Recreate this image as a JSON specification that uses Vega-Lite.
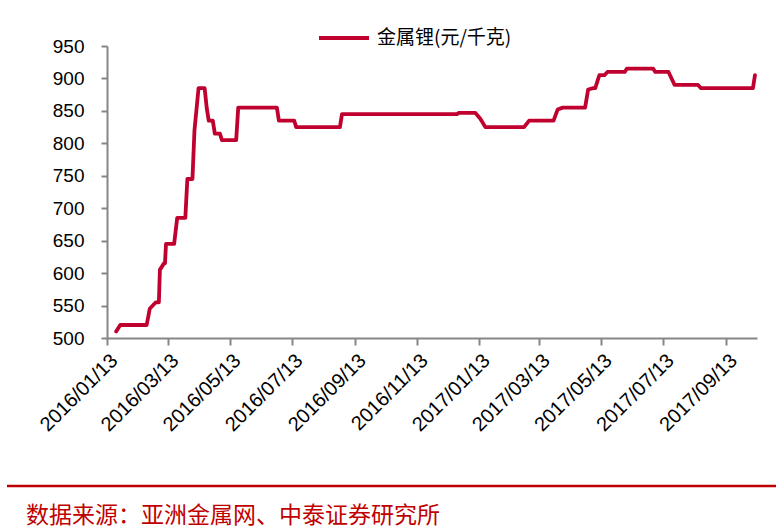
{
  "$schema": "https://vega.github.io/schema/vega-lite/v6.json",
  "padding": {"left": 5, "top": 11, "right": 5, "bottom": 2},
  "background": "white",
  "spacing": 46,
  "vconcat": [
    {
      "width": 650,
      "height": 292,
      "view": {"stroke": null},
      "data": {
        "values": [
          {"date": "2016/01/22", "price": 510, "series": "金属锂(元/千克)"},
          {"date": "2016/01/26", "price": 520, "series": "金属锂(元/千克)"},
          {"date": "2016/02/21", "price": 520, "series": "金属锂(元/千克)"},
          {"date": "2016/02/24", "price": 545, "series": "金属锂(元/千克)"},
          {"date": "2016/03/01", "price": 555, "series": "金属锂(元/千克)"},
          {"date": "2016/03/04", "price": 555, "series": "金属锂(元/千克)"},
          {"date": "2016/03/05", "price": 605, "series": "金属锂(元/千克)"},
          {"date": "2016/03/09", "price": 615, "series": "金属锂(元/千克)"},
          {"date": "2016/03/10", "price": 615, "series": "金属锂(元/千克)"},
          {"date": "2016/03/11", "price": 645, "series": "金属锂(元/千克)"},
          {"date": "2016/03/19", "price": 645, "series": "金属锂(元/千克)"},
          {"date": "2016/03/22", "price": 685, "series": "金属锂(元/千克)"},
          {"date": "2016/03/30", "price": 685, "series": "金属锂(元/千克)"},
          {"date": "2016/04/01", "price": 745, "series": "金属锂(元/千克)"},
          {"date": "2016/04/06", "price": 745, "series": "金属锂(元/千克)"},
          {"date": "2016/04/08", "price": 820, "series": "金属锂(元/千克)"},
          {"date": "2016/04/12", "price": 885, "series": "金属锂(元/千克)"},
          {"date": "2016/04/18", "price": 885, "series": "金属锂(元/千克)"},
          {"date": "2016/04/20", "price": 855, "series": "金属锂(元/千克)"},
          {"date": "2016/04/22", "price": 835, "series": "金属锂(元/千克)"},
          {"date": "2016/04/26", "price": 835, "series": "金属锂(元/千克)"},
          {"date": "2016/04/28", "price": 815, "series": "金属锂(元/千克)"},
          {"date": "2016/05/03", "price": 815, "series": "金属锂(元/千克)"},
          {"date": "2016/05/05", "price": 805, "series": "金属锂(元/千克)"},
          {"date": "2016/05/19", "price": 805, "series": "金属锂(元/千克)"},
          {"date": "2016/05/21", "price": 855, "series": "金属锂(元/千克)"},
          {"date": "2016/06/28", "price": 855, "series": "金属锂(元/千克)"},
          {"date": "2016/06/30", "price": 835, "series": "金属锂(元/千克)"},
          {"date": "2016/07/15", "price": 835, "series": "金属锂(元/千克)"},
          {"date": "2016/07/17", "price": 825, "series": "金属锂(元/千克)"},
          {"date": "2016/08/29", "price": 825, "series": "金属锂(元/千克)"},
          {"date": "2016/08/31", "price": 845, "series": "金属锂(元/千克)"},
          {"date": "2016/12/22", "price": 845, "series": "金属锂(元/千克)"},
          {"date": "2016/12/24", "price": 847, "series": "金属锂(元/千克)"},
          {"date": "2017/01/09", "price": 847, "series": "金属锂(元/千克)"},
          {"date": "2017/01/14", "price": 838, "series": "金属锂(元/千克)"},
          {"date": "2017/01/19", "price": 825, "series": "金属锂(元/千克)"},
          {"date": "2017/02/26", "price": 825, "series": "金属锂(元/千克)"},
          {"date": "2017/03/03", "price": 835, "series": "金属锂(元/千克)"},
          {"date": "2017/03/27", "price": 835, "series": "金属锂(元/千克)"},
          {"date": "2017/03/31", "price": 852, "series": "金属锂(元/千克)"},
          {"date": "2017/04/05", "price": 855, "series": "金属锂(元/千克)"},
          {"date": "2017/04/27", "price": 855, "series": "金属锂(元/千克)"},
          {"date": "2017/04/30", "price": 883, "series": "金属锂(元/千克)"},
          {"date": "2017/05/05", "price": 885, "series": "金属锂(元/千克)"},
          {"date": "2017/05/07", "price": 885, "series": "金属锂(元/千克)"},
          {"date": "2017/05/09", "price": 895, "series": "金属锂(元/千克)"},
          {"date": "2017/05/11", "price": 905, "series": "金属锂(元/千克)"},
          {"date": "2017/05/16", "price": 905, "series": "金属锂(元/千克)"},
          {"date": "2017/05/19", "price": 910, "series": "金属锂(元/千克)"},
          {"date": "2017/06/05", "price": 910, "series": "金属锂(元/千克)"},
          {"date": "2017/06/07", "price": 915, "series": "金属锂(元/千克)"},
          {"date": "2017/07/03", "price": 915, "series": "金属锂(元/千克)"},
          {"date": "2017/07/05", "price": 910, "series": "金属锂(元/千克)"},
          {"date": "2017/07/18", "price": 910, "series": "金属锂(元/千克)"},
          {"date": "2017/07/21", "price": 900, "series": "金属锂(元/千克)"},
          {"date": "2017/07/24", "price": 890, "series": "金属锂(元/千克)"},
          {"date": "2017/08/16", "price": 890, "series": "金属锂(元/千克)"},
          {"date": "2017/08/19", "price": 885, "series": "金属锂(元/千克)"},
          {"date": "2017/10/09", "price": 885, "series": "金属锂(元/千克)"},
          {"date": "2017/10/11", "price": 905, "series": "金属锂(元/千克)"}
        ]
      },
      "mark": {"type": "line", "strokeWidth": 3.8, "strokeJoin": "round", "strokeCap": "round"},
      "encoding": {
        "x": {
          "field": "date",
          "type": "temporal",
          "scale": {"domain": [{"year": 2016, "month": 1, "date": 13}, {"year": 2017, "month": 10, "date": 13}]},
          "axis": {
            "values": [
              {"year": 2016, "month": 1, "date": 13},
              {"year": 2016, "month": 3, "date": 13},
              {"year": 2016, "month": 5, "date": 13},
              {"year": 2016, "month": 7, "date": 13},
              {"year": 2016, "month": 9, "date": 13},
              {"year": 2016, "month": 11, "date": 13},
              {"year": 2017, "month": 1, "date": 13},
              {"year": 2017, "month": 3, "date": 13},
              {"year": 2017, "month": 5, "date": 13},
              {"year": 2017, "month": 7, "date": 13},
              {"year": 2017, "month": 9, "date": 13}
            ],
            "format": "%Y/%m/%d",
            "labelAngle": -45,
            "labelFont": "Liberation Sans",
            "labelFontSize": 20,
            "labelColor": "#000000",
            "labelPadding": 5,
            "labelOverlap": false,
            "labelFlush": false,
            "domainColor": "#868686",
            "domainWidth": 2,
            "tickColor": "#868686",
            "tickWidth": 2,
            "tickSize": 7,
            "grid": false,
            "title": null,
            "minExtent": 100
          }
        },
        "y": {
          "field": "price",
          "type": "quantitative",
          "scale": {"domain": [500, 950], "nice": false, "zero": false},
          "axis": {
            "values": [500, 550, 600, 650, 700, 750, 800, 850, 900, 950],
            "labelFont": "Liberation Sans",
            "labelFontSize": 19,
            "labelColor": "#000000",
            "labelPadding": 17,
            "labelFlush": false,
            "domainColor": "#868686",
            "domainWidth": 2,
            "tickColor": "#868686",
            "tickWidth": 2,
            "tickSize": 6,
            "grid": false,
            "title": null,
            "minExtent": 101
          }
        },
        "color": {
          "field": "series",
          "type": "nominal",
          "scale": {"range": ["#C0002F"]},
          "legend": {
            "orient": "none",
            "legendX": 210,
            "legendY": -35,
            "title": null,
            "symbolType": "stroke",
            "symbolSize": 2500,
            "symbolStrokeWidth": 4,
            "labelFont": "Noto Sans CJK SC",
            "labelFontSize": 19,
            "labelColor": "#000000",
            "labelOffset": 6,
            "padding": 0
          }
        }
      }
    },
    {
      "width": 669,
      "height": 2,
      "view": {"stroke": null},
      "data": {"values": [{"start": -100, "end": 669}]},
      "mark": {"type": "rule", "color": "#C00000", "strokeWidth": 2.5, "clip": false},
      "encoding": {
        "x": {"field": "start", "type": "quantitative", "scale": {"domain": [0, 669], "nice": false, "zero": false}, "axis": null},
        "x2": {"field": "end"}
      },
      "title": {
        "text": "数据来源：亚洲金属网、中泰证券研究所",
        "orient": "bottom",
        "anchor": "start",
        "frame": "group",
        "offset": 18,
        "dx": -81,
        "font": "Noto Sans CJK SC",
        "fontSize": 23,
        "fontWeight": "normal",
        "color": "#C00000"
      }
    }
  ]
}
